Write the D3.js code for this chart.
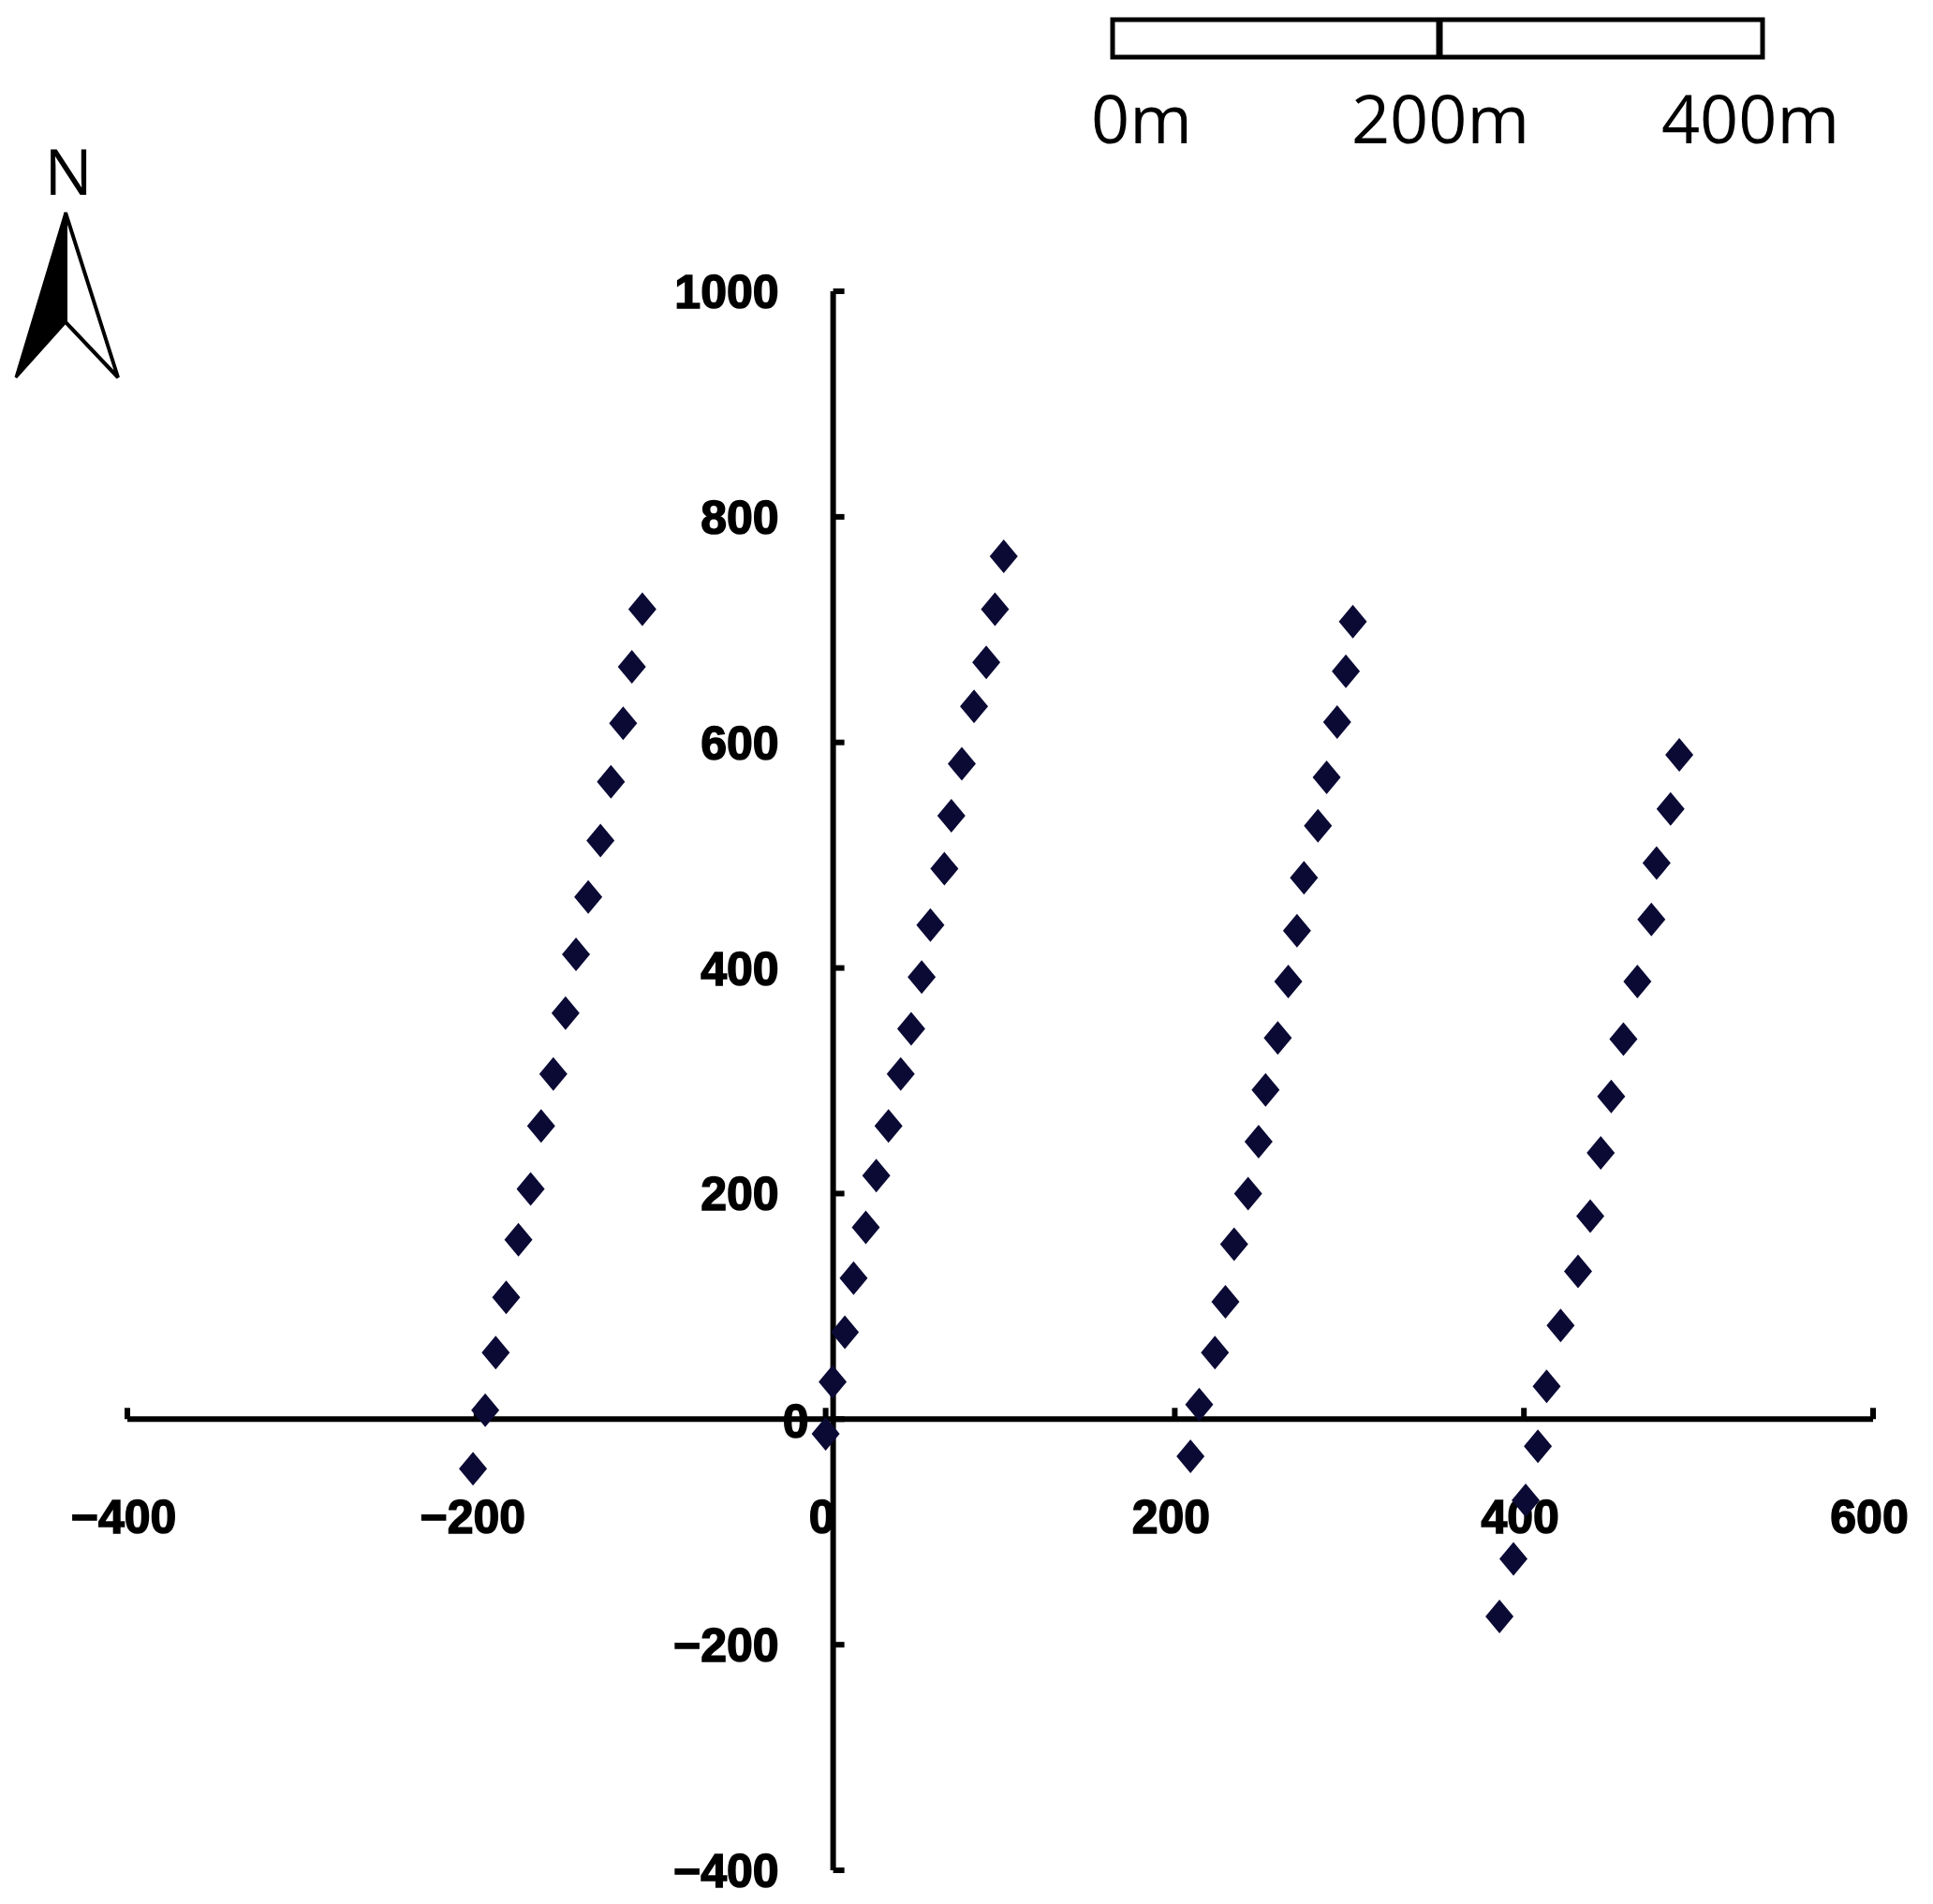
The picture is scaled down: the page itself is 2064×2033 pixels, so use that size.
<!DOCTYPE html>
<html><head><meta charset="utf-8">
<script src="https://cdn.jsdelivr.net/npm/d3@7"></script>
<style>body{margin:0;background:#fff}</style>
</head><body>
<svg width="2064" height="2033"></svg>
<script>
// survey line points (x, y) in metres
const line1 = [[-202,-44],[-195,8],[-189,59],[-183,108],[-176,159],[-169,204],[-163,260],[-156,306],[-149,360],[-143,412],[-136,463],[-129,513],[-123,565],[-116,617],[-111,667],[-105,718]];
const line2 = [[0,-13],[4,33],[11,77],[16,125],[23,170],[29,216],[36,260],[43,306],[49,346],[55,392],[60,438],[68,488],[72,535],[78,581],[85,632],[92,671],[97,718],[102,765]];
const line3 = [[209,-33],[214,13],[223,59],[229,104],[234,155],[242,200],[248,246],[252,292],[259,338],[265,388],[270,433],[274,480],[282,526],[287,569],[293,618],[298,663],[302,707]];
const line4 = [[386,-175],[394,-124],[401,-72],[408,-24],[413,29],[421,83],[431,131],[438,180],[444,236],[450,286],[457,337],[465,388],[473,443],[476,493],[484,541],[489,589]];
const xTicks = [-400,-200,0,200,400,600];
const yTicks = [-400,-200,0,200,400,600,800,1000];
const scaleLabels = ["0m","200m","400m"];

const svg = d3.select("svg");
const x = d3.scaleLinear().domain([-400,600]).range([136,2000]);
const y = d3.scaleLinear().domain([-400,1000]).range([1997,311]);

// axes
const ax = svg.append("g").attr("stroke","#000").attr("stroke-width",6);
ax.append("line").attr("x1",x(-400)).attr("x2",x(600)).attr("y1",y(0)).attr("y2",y(0));
ax.append("line").attr("x1",x(0)+8).attr("x2",x(0)+8).attr("y1",y(-400)).attr("y2",y(1000));
ax.selectAll(".xt").data(xTicks).join("line")
  .attr("x1",d=>x(d)).attr("x2",d=>x(d)).attr("y1",y(0)).attr("y2",y(0)-12);
ax.selectAll(".yt").data(yTicks).join("line")
  .attr("x1",x(0)+8).attr("x2",x(0)+20).attr("y1",d=>y(d)).attr("y2",d=>y(d));

const lab = svg.append("g").attr("font-family","Liberation Sans, Arial").attr("font-weight","bold")
  .attr("font-size",50).attr("fill","#000").attr("stroke","#000").attr("stroke-width",1.5);
const fmt = d => d < 0 ? "\u2212" + Math.abs(d) : d;
lab.selectAll(".xl").data(xTicks).join("text")
  .attr("x",d=>x(d)-4).attr("y",y(0)+122).attr("text-anchor","middle").text(fmt);
lab.selectAll(".yl").data(yTicks.filter(d=>d!==0)).join("text")
  .attr("x",x(0)-50).attr("y",d=>y(d)+18).attr("text-anchor","end").text(fmt);
lab.append("text").attr("x",x(0)-18).attr("y",y(0)+20).attr("text-anchor","end").text("0");

// points
const diamond = "M0,-18L15,0L0,18L-15,0Z";
[line1,line2,line3,line4].forEach(s=>{
  svg.append("g").selectAll("path").data(s).join("path")
    .attr("d",diamond).attr("transform",d=>`translate(${x(d[0])},${y(d[1])})`)
    .attr("fill","#0b0a35");
});

// scale bar
const sb = d3.scaleLinear().domain([0,400]).range([1188,1882]);
svg.append("rect").attr("x",sb(0)).attr("y",21).attr("width",sb(400)-sb(0)).attr("height",40)
  .attr("fill","#fff").attr("stroke","#000").attr("stroke-width",5);
svg.append("line").attr("x1",sb(200)+2).attr("x2",sb(200)+2).attr("y1",21).attr("y2",61)
  .attr("stroke","#000").attr("stroke-width",7);
svg.selectAll(".sl").data(scaleLabels).join("text")
  .attr("x",(d,i)=>[1219,1538,1869][i]).attr("y",153).attr("text-anchor","middle")
  .attr("font-family","Open Sans, Liberation Sans").attr("font-size",72).text(d=>d);

// north arrow
svg.append("text").attr("x",73).attr("y",208).attr("text-anchor","middle")
  .attr("font-family","Open Sans, Liberation Sans").attr("font-size",68).text("N");
svg.append("path").attr("d","M70,227 L17,403 L70,344 Z").attr("fill","#000").attr("stroke","#000").attr("stroke-width",3);
svg.append("path").attr("d","M70,227 L126,403 L70,344 Z").attr("fill","#fff").attr("stroke","#000").attr("stroke-width",4);
</script>
</body></html>
